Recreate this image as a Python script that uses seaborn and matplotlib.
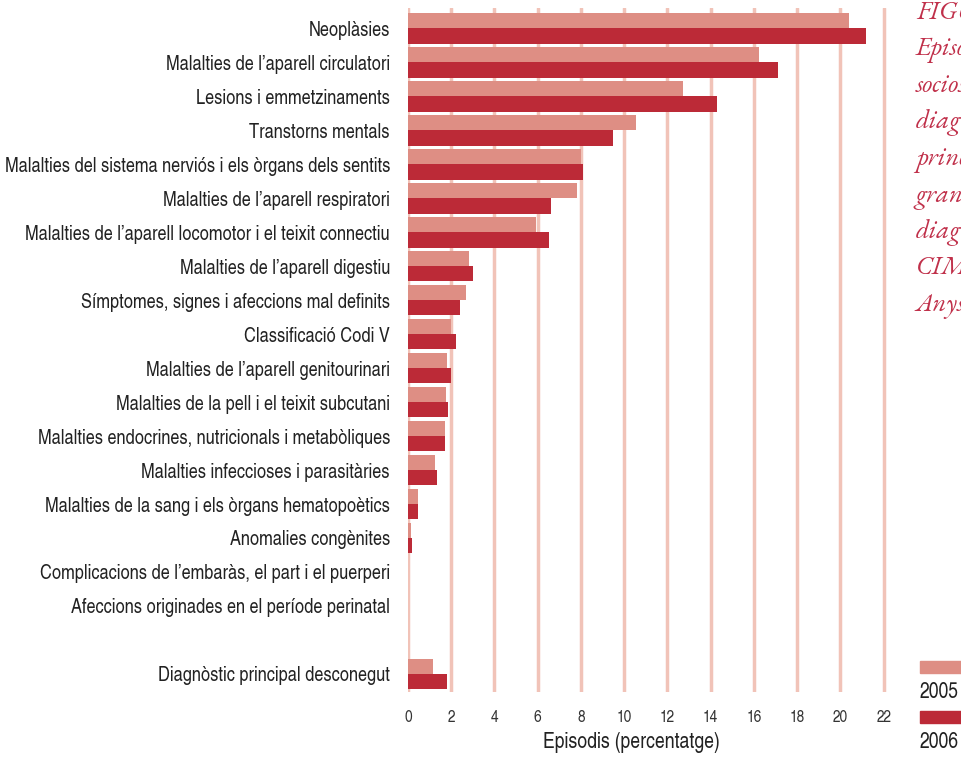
import pandas as pd
import matplotlib
matplotlib.use("Agg")
import matplotlib.pyplot as plt
import matplotlib.patches as mpatches
import seaborn as sns

# Categories (top to bottom); a blank slot separates the last one
categories = [
    "Neoplàsies",
    "Malalties de l’aparell circulatori",
    "Lesions i emmetzinaments",
    "Transtorns mentals",
    "Malalties del sistema nerviós i els òrgans dels sentits",
    "Malalties de l’aparell respiratori",
    "Malalties de l’aparell locomotor i el teixit connectiu",
    "Malalties de l’aparell digestiu",
    "Símptomes, signes i afeccions mal definits",
    "Classificació Codi V",
    "Malalties de l’aparell genitourinari",
    "Malalties de la pell i el teixit subcutani",
    "Malalties endocrines, nutricionals i metabòliques",
    "Malalties infeccioses i parasitàries",
    "Malalties de la sang i els òrgans hematopoètics",
    "Anomalies congènites",
    "Complicacions de l’embaràs, el part i el puerperi",
    "Afeccions originades en el període perinatal",
    "Diagnòstic principal desconegut",
]
years = ["2005", "2006"]
values_2005 = [20.4, 16.25, 12.7, 10.55, 8.0, 7.8, 5.9, 2.8, 2.7, 2.0, 1.8,
               1.75, 1.7, 1.25, 0.45, 0.15, 0.0, 0.0, 1.15]
values_2006 = [21.2, 17.1, 14.3, 9.5, 8.1, 6.6, 6.5, 3.0, 2.4, 2.2, 2.0,
               1.85, 1.7, 1.35, 0.45, 0.2, 0.0, 0.0, 1.8]
x_ticks = list(range(0, 23, 2))
title_lines = ["FIGURA 5", "Episodis", "sociosanitaris", "diagnòstic",
               "principal per", "grans grups", "diagnòstics", "CIM-9-MC.",
               "Anys 2005-2006"]

col_2005 = "#de8e84"
col_2006 = "#bc2a37"
grid_col = "#f1c3b8"
title_col = "#c0304a"

df = pd.DataFrame({
    "cat": categories * 2,
    "val": values_2005 + values_2006,
    "year": [years[0]] * len(categories) + [years[1]] * len(categories),
})
order = categories[:-1] + [" "] + categories[-1:]

sns.set_style("white")
plt.rcParams["font.family"] = ["TeX Gyre Heros Cn", "DejaVu Sans"]

fig = plt.figure(figsize=(9.61, 7.58), dpi=100)
ax = fig.add_axes([408 / 961, (758 - 692) / 758, (888 - 408) / 961, 684 / 758])

sns.barplot(data=df, y="cat", x="val", hue="year", order=order,
            hue_order=years, palette=[col_2005, col_2006], orient="h",
            width=0.91, ax=ax, legend=False, saturation=1, linewidth=0)

ax.set_xlim(0, 22.2)
ax.set_ylim(len(order) - 1 + 0.53, -0.59)
ax.set_xticks(x_ticks)
ax.xaxis.grid(True, color=grid_col, linewidth=2.5)
ax.set_axisbelow(True)
for s in ax.spines.values():
    s.set_visible(False)
ax.tick_params(axis="x", length=4, width=2.5, color=grid_col, pad=9,
               labelsize=12, labelcolor="#333333")
ax.tick_params(axis="y", length=0, pad=13, labelsize=14.4, labelcolor="#222222")
ax.set_ylabel("")
ax.set_xlabel("Episodis (percentatge)", fontsize=15.5, color="#222222")
ax.xaxis.set_label_coords((631 - 408) / 480, -0.058)

# Title on the right (cut by the figure edge as in the original)
for i, line in enumerate(title_lines):
    fig.text(916 / 961, 1 - (13 + i * 36.6) / 758, line, ha="left", va="center",
             fontsize=19, style="italic", color=title_col,
             family=["EB Garamond", "TeX Gyre Pagella", "DejaVu Serif"])

# Legend swatches bottom right
for y_sw, y_lab, col, lab in [(661, 693, col_2005, "2005"), (711, 743, col_2006, "2006")]:
    fig.patches.append(mpatches.Rectangle((920 / 961, 1 - (y_sw + 12) / 758),
                                          60 / 961, 12 / 758, color=col,
                                          transform=fig.transFigure))
    fig.text(919 / 961, 1 - y_lab / 758, lab, ha="left", va="center",
             fontsize=15.5, color="#222222")

fig.savefig("out.png", dpi=100)
